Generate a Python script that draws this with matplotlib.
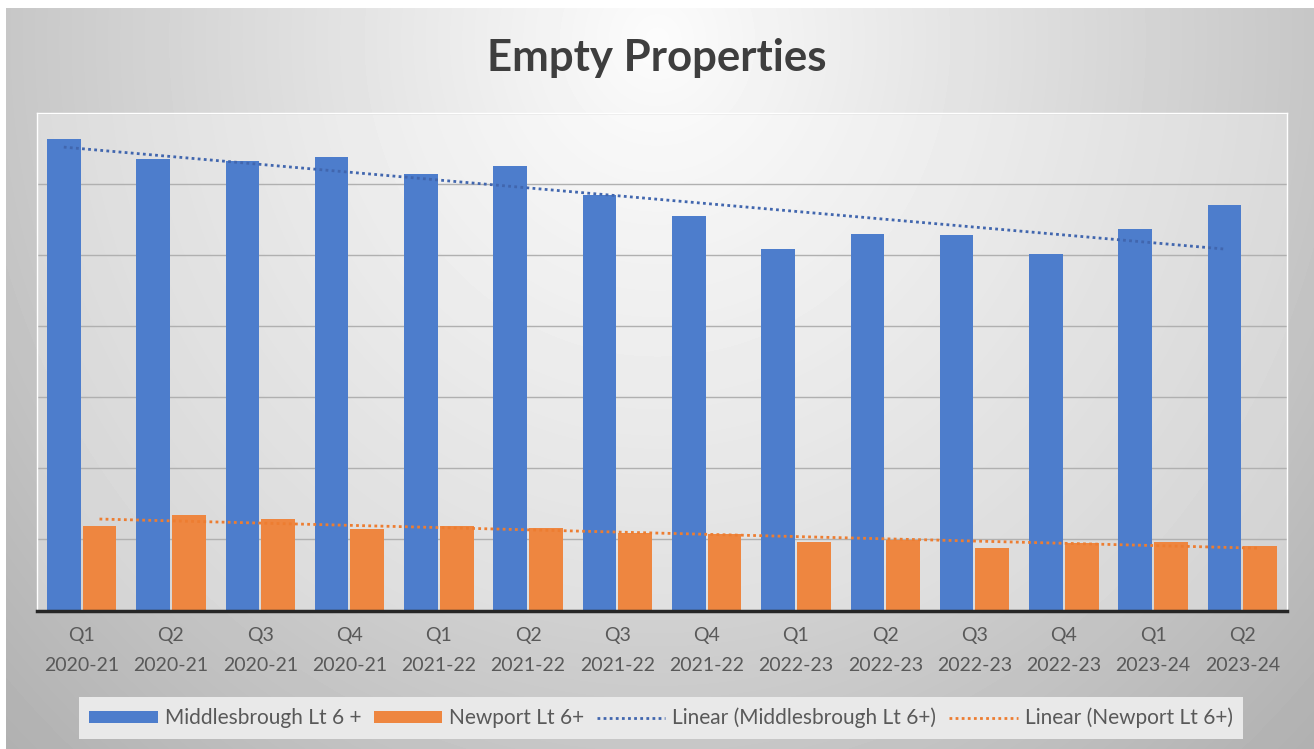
import numpy as np
import matplotlib
matplotlib.use('Agg')
import matplotlib.pyplot as plt
from matplotlib.patches import Patch
from matplotlib.lines import Line2D

plt.rcParams['font.family'] = ['Lato', 'DejaVu Sans']

# data (no axis values shown, gridline step = 100 units)
quarters = ['Q1', 'Q2', 'Q3', 'Q4', 'Q1', 'Q2', 'Q3', 'Q4',
            'Q1', 'Q2', 'Q3', 'Q4', 'Q1', 'Q2']
years = ['2020-21', '2020-21', '2020-21', '2020-21',
         '2021-22', '2021-22', '2021-22', '2021-22',
         '2022-23', '2022-23', '2022-23', '2022-23',
         '2023-24', '2023-24']
middlesbrough = [663, 635, 633, 638, 614, 625, 584, 555, 509, 530, 528, 502, 537, 571]
newport = [119, 134, 129, 115, 119, 116, 109, 108, 96, 99, 88, 95, 96, 91]

blue = '#4D7DCC'
orange = '#EE8640'
W, H = 1314, 749

fig = plt.figure(figsize=(W / 100, H / 100), dpi=100)

# radial grey background of the chart area
yy, xx = np.mgrid[0:H, 0:W]
r = np.sqrt(((xx - 657) / 760.0) ** 2 + ((yy - 40) / 820.0) ** 2)
grad = np.clip(252 - 62 * r, 0, 255)
grad[:8, :] = 255
grad[:, :6] = 255
bg = fig.add_axes([0, 0, 1, 1], zorder=-1)
bg.imshow(grad, cmap='gray', vmin=0, vmax=255, aspect='auto',
          interpolation='bilinear')
bg.axis('off')

ax = fig.add_axes([37 / W, 1 - 610.5 / H, 1250 / W, 497.5 / H])
ax.set_facecolor((1, 1, 1, 0.35))

x = np.arange(len(quarters))
ax.bar(x - 0.2, middlesbrough, width=0.375, color=blue, zorder=2)
ax.bar(x + 0.2, newport, width=0.38, color=orange, zorder=2)

# linear trendlines
fit_m = np.polyfit(x, middlesbrough, 1)
fit_n = np.polyfit(x, newport, 1)
ends = x[[0, -1]]
dots = (0, (1, 1.2))
ax.plot(ends - 0.2, np.polyval(fit_m, ends), color='#4166AE', lw=2,
        linestyle=dots, zorder=3)
ax.plot(ends + 0.2, np.polyval(fit_n, ends), color='#ED7D31', lw=2,
        linestyle=dots, zorder=3)

ax.set_xlim(-0.5, len(quarters) - 0.5)
ax.set_ylim(0, 700)
ax.set_yticks(range(100, 701, 100))
ax.yaxis.grid(True, color='#b0b0b0', lw=1, zorder=1)
ax.set_axisbelow(True)
ax.tick_params(axis='y', length=0, labelleft=False)
ax.set_xticks(x)
ax.set_xticklabels([q + '\n' + y for q, y in zip(quarters, years)],
                   fontsize=14, color='#595959', linespacing=1.9)
ax.tick_params(axis='x', length=0, pad=12)
for s in ['top', 'right', 'left']:
    ax.spines[s].set_color('white')
    ax.spines[s].set_linewidth(1)
ax.spines['bottom'].set_color('#262626')
ax.spines['bottom'].set_linewidth(2.5)

fig.text(0.5, 1 - 58 / H, 'Empty Properties', ha='center', va='center',
         fontsize=31.5, fontweight='bold', color='#3e3e3e')

handles = [Patch(facecolor=blue), Patch(facecolor=orange),
           Line2D([], [], color='#4166AE', lw=2, linestyle=dots),
           Line2D([], [], color='#ED7D31', lw=2, linestyle=dots)]
labels = ['Middlesbrough Lt 6 +', 'Newport Lt 6+',
          'Linear (Middlesbrough Lt 6+)', 'Linear (Newport Lt 6+)']
leg = fig.legend(handles, labels, loc='center', bbox_to_anchor=(661 / W, 1 - 718 / H),
                 ncol=4, frameon=True, facecolor='#e9e9e9', edgecolor='none',
                 fancybox=False, framealpha=1, fontsize=15, handlelength=3.27,
                 handleheight=0.5, columnspacing=0.62, handletextpad=0.34,
                 borderpad=0.5)
for t in leg.get_texts():
    t.set_color('#595959')

fig.savefig('out.png', dpi=100)
